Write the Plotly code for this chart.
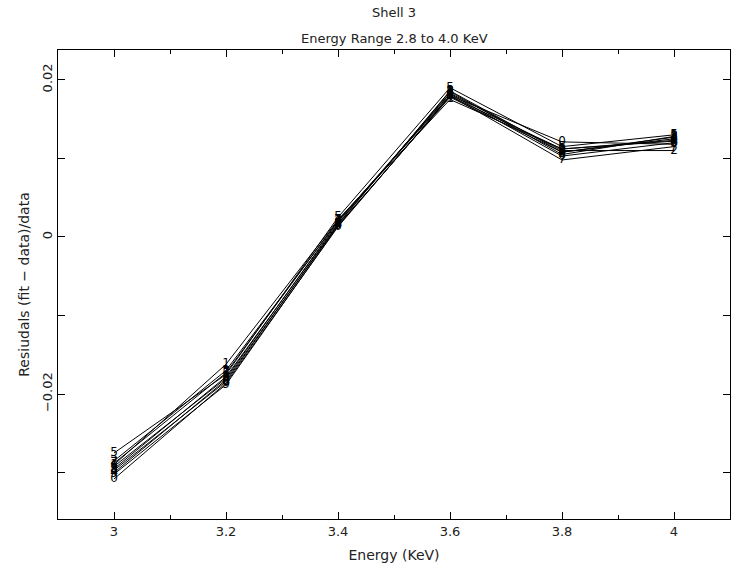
import plotly.graph_objects as go

# Energy grid (KeV) and fractional residuals for each fitted model
energy = [3.0, 3.2, 3.4, 3.6, 3.8, 4.0]
labels = ["0", "1", "2", "3", "4", "5", "6", "7", "8", "9"]
residuals = {
    "0": [-0.0308, -0.0186, 0.0013, 0.0180, 0.0121, 0.0118],
    "1": [-0.0290, -0.0162, 0.0022, 0.0175, 0.0112, 0.0123],
    "2": [-0.0285, -0.0170, 0.0020, 0.0183, 0.0110, 0.0110],
    "3": [-0.0295, -0.0178, 0.0017, 0.0185, 0.0105, 0.0128],
    "4": [-0.0300, -0.0182, 0.0015, 0.0178, 0.0108, 0.0125],
    "5": [-0.0275, -0.0175, 0.0025, 0.0190, 0.0115, 0.0130],
    "6": [-0.0292, -0.0180, 0.0019, 0.0182, 0.0103, 0.0120],
    "7": [-0.0288, -0.0173, 0.0021, 0.0180, 0.0098, 0.0115],
    "8": [-0.0297, -0.0184, 0.0016, 0.0186, 0.0108, 0.0127],
    "9": [-0.0302, -0.0188, 0.0014, 0.0179, 0.0112, 0.0122],
}
x_ticks = [3.0, 3.2, 3.4, 3.6, 3.8, 4.0]
x_ticktext = ["3", "3.2", "3.4", "3.6", "3.8", "4"]
y_ticks = [-0.03, -0.02, -0.01, 0.0, 0.01, 0.02]
y_ticktext = ["", "\u22120.02", "", "0", "", "0.02"]

FONT = "DejaVu Sans"

fig = go.Figure()
for lab in labels:
    fig.add_trace(go.Scatter(
        x=energy, y=residuals[lab], mode="lines+text",
        text=[lab] * len(energy), textposition="middle center",
        textfont=dict(family=FONT, size=12, color="black"),
        line=dict(color="black", width=1), showlegend=False,
        cliponaxis=False,
    ))

axis_common = dict(
    showline=True, linecolor="black", linewidth=1.2, mirror="ticks",
    ticks="inside", ticklen=7, tickcolor="black", tickwidth=1,
    showgrid=False, zeroline=False,
    tickfont=dict(family=FONT, size=13, color="#222"),
    title_font=dict(family=FONT, size=14, color="#222"),
)

fig.update_layout(
    width=731, height=574,
    margin=dict(l=58, r=1, t=50, b=55),
    paper_bgcolor="white", plot_bgcolor="white",
    xaxis=dict(range=[2.9, 4.1], tickvals=x_ticks, ticktext=x_ticktext,
               minor=dict(dtick=0.1, tick0=2.9, ticks="inside", ticklen=4,
                          tickcolor="black", showgrid=False),
               title=dict(text="Energy (KeV)", standoff=12), **axis_common),
    yaxis=dict(range=[-0.0359, 0.0238], tickvals=y_ticks, ticktext=y_ticktext,
               tickangle=-90,
               title=dict(text="Resiudals (fit \u2212 data)/data", standoff=6),
               **axis_common),
    annotations=[
        dict(text="Shell 3", xref="paper", yref="paper", x=0.5, y=1.0,
             yshift=38, showarrow=False, yanchor="middle",
             font=dict(family=FONT, size=13, color="#222")),
        dict(text="Energy Range 2.8 to 4.0 KeV", xref="paper", yref="paper",
             x=0.5, y=1.0, yshift=12, showarrow=False, yanchor="middle",
             font=dict(family=FONT, size=13, color="#222")),
    ],
)

fig.write_html("out.html")
